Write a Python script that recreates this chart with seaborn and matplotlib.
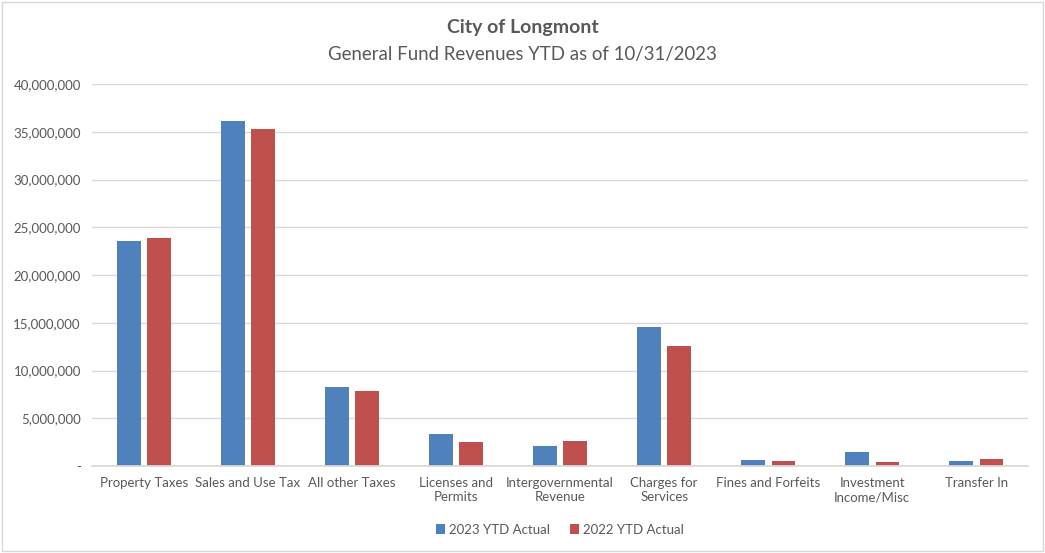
import matplotlib
matplotlib.use("Agg")
import matplotlib.pyplot as plt
import matplotlib.ticker as mticker
import pandas as pd
import seaborn as sns

# Data
categories = [
    "Property Taxes", "Sales and Use Tax", "All other Taxes", "Licenses and\nPermits",
    "Intergovernmental\nRevenue", "Charges for\nServices", "Fines and Forfeits",
    "Investment\nIncome/Misc", "Transfer In",
]
ytd_2023 = [23560000, 36100000, 8240000, 3420000, 2130000, 14590000, 630000, 1470000, 590000]
ytd_2022 = [23840000, 35300000, 7820000, 2580000, 2650000, 12530000, 590000, 450000, 770000]
series = ["2023 YTD Actual", "2022 YTD Actual"]

df = pd.DataFrame({
    "category": categories * 2,
    "value": ytd_2023 + ytd_2022,
    "series": [series[0]] * len(categories) + [series[1]] * len(categories),
})

sns.set_theme(style="white")
plt.rcParams["font.family"] = ["Lato", "DejaVu Sans"]

TXT = "#595959"

fig = plt.figure(figsize=(10.45, 5.53), dpi=100)
ax = fig.add_axes([0.088, 0.157, 0.896, 0.691])

sns.barplot(
    data=df, x="category", y="value", hue="series",
    order=categories, hue_order=series,
    palette=["#4F81BD", "#C0504D"], saturation=1,
    width=0.58, gap=0.22, errorbar=None, linewidth=0, ax=ax,
)

ax.set_ylim(0, 40000000)
ax.yaxis.set_major_locator(mticker.MultipleLocator(5000000))
ax.yaxis.set_major_formatter(
    mticker.FuncFormatter(lambda v, p: "-" if v == 0 else f"{int(v):,}")
)
ax.grid(axis="y", color="#D9D9D9", linewidth=1)
ax.set_axisbelow(True)
for s in ["top", "right", "left"]:
    ax.spines[s].set_visible(False)
ax.spines["bottom"].set_color("#D9D9D9")
ax.tick_params(axis="both", length=0, labelsize=9.5, colors=TXT)
ax.tick_params(axis="y", pad=8)
ax.tick_params(axis="x", pad=8)
ax.set_xlabel("")
ax.set_ylabel("")

fig.text(0.5, 0.95, "City of Longmont", ha="center", va="center",
         fontsize=14, fontweight="bold", color=TXT)
fig.text(0.5, 0.902, "General Fund Revenues YTD as of 10/31/2023", ha="center",
         va="center", fontsize=13.4, color=TXT)

ax.legend(loc="center", bbox_to_anchor=(0.5, -0.166), ncol=2, frameon=False,
          fontsize=9.5, labelcolor=TXT, handlelength=0.7, handleheight=0.7,
          handletextpad=0.3, columnspacing=1.5)

# light border around the chart
fig.patches.append(plt.Rectangle((0.002, 0.004), 0.996, 0.992, transform=fig.transFigure,
                                 fill=False, edgecolor="#D9D9D9", linewidth=1))

plt.savefig("out.png", dpi=100)
